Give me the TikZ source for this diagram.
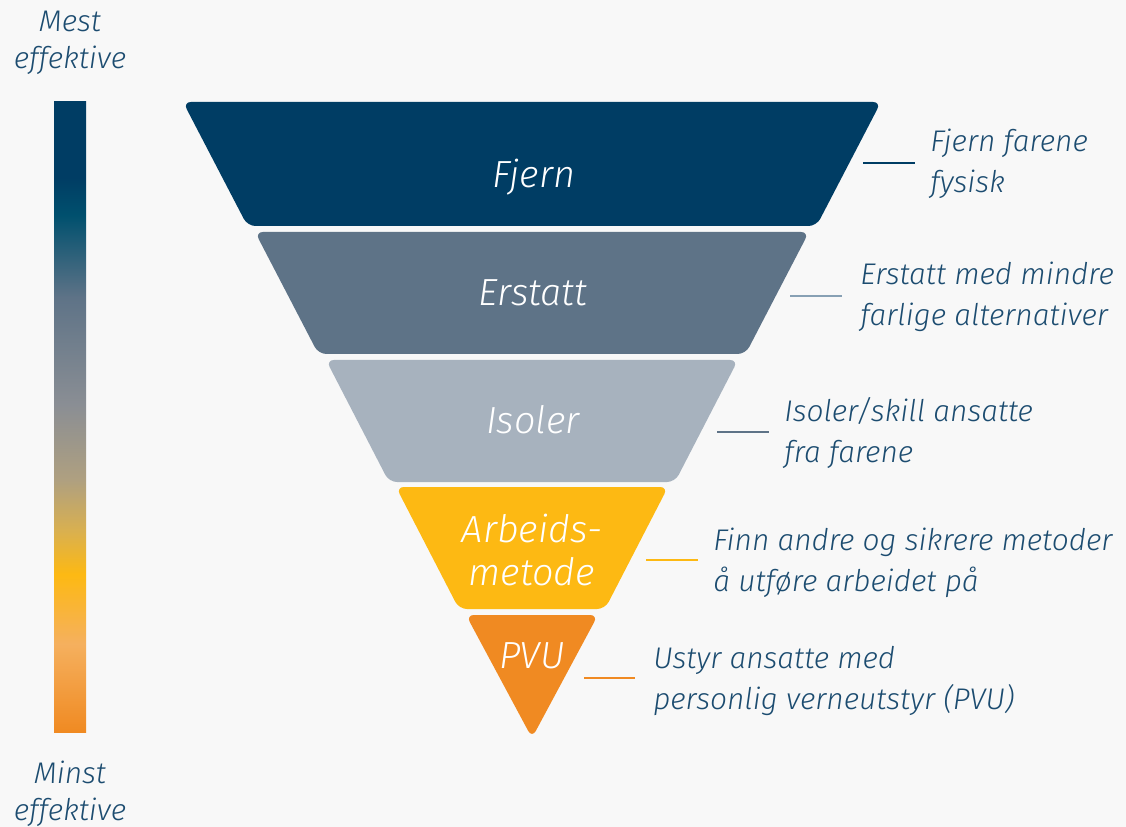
\documentclass[tikz,border=0pt]{standalone}
\usepackage{fontspec}
\setmainfont{Fira Sans Light}
\usetikzlibrary{positioning}
\definecolor{fjern}{RGB}{0,61,100}
\definecolor{erstatt}{RGB}{94,115,135}
\definecolor{isoler}{RGB}{167,178,190}
\definecolor{metode}{RGB}{253,185,19}
\definecolor{pvu}{RGB}{240,138,34}
\definecolor{lysoransje}{RGB}{245,176,94}
\definecolor{teal}{RGB}{0,80,110}
\definecolor{graa}{RGB}{138,142,148}
\definecolor{beige}{RGB}{175,160,128}
\definecolor{gull}{RGB}{217,176,80}
\definecolor{erstattlinje}{RGB}{135,160,180}
\definecolor{tekst}{RGB}{28,76,112}
\definecolor{bakgrunn}{RGB}{248,248,248}
\pgfdeclareverticalshading{effekt}{100bp}{color(0bp)=(pvu); color(25bp)=(pvu); color(32bp)=(lysoransje); color(37.5bp)=(metode); color(41bp)=(gull); color(45bp)=(beige); color(51bp)=(graa); color(59.5bp)=(erstatt); color(66bp)=(teal); color(69bp)=(fjern); color(75bp)=(fjern); color(100bp)=(fjern)}
\begin{document}
\begin{tikzpicture}[x=0.02cm,y=-0.02cm,line join=round,line cap=butt,
		band/.style={rounded corners=0.16cm},
		bandtekst/.style={text=white,align=center,font=\fontsize{21.5}{24.5}\selectfont\itshape},
		forklaring/.style={anchor=west,align=left,inner sep=0pt,text=tekst,font=\fontsize{17}{23.3}\selectfont\itshape},
		skala/.style={align=center,inner sep=0pt,text=tekst,font=\fontsize{17}{21}\selectfont\itshape},
		strek/.style={line width=1.7pt}]
	\fill[bakgrunn] (0,0) rectangle (1126,827);
	\shade[shading=effekt] (54,102) rectangle (86,732);
	\node[skala] (mest) at (70,43) {Mest\\effektive};
	\node[skala] (minst) at (70,794) {Minst\\effektive};
	\fill[fjern,band] (183,102) -- (881,102) -- (816.5,226) -- (247.5,226) -- cycle;
	\fill[erstatt,band] (255,232) -- (809,232) -- (745.6,354) -- (318.4,354) -- cycle;
	\fill[isoler,band] (326,360) -- (738,360) -- (675,482) -- (389,482) -- cycle;
	\fill[metode,band] (396,487) -- (668,487) -- (605,609) -- (459,609) -- cycle;
	\fill[pvu,band] (466,615) -- (598,615) -- (532,738) -- cycle;
	\node[bandtekst] (tfjern) at (534,177) {Fjern};
	\node[bandtekst] (terstatt) at (533,293) {Erstatt};
	\node[bandtekst] (tisoler) at (533,420) {Isoler};
	\node[bandtekst] (tmetode) at (532,550) {Arbeids-\\metode};
	\node[bandtekst] (tpvu) at (532,656) {PVU};
	\coordinate (s1) at (863,163);
	\coordinate (s2) at (790,296);
	\coordinate (s3) at (717,432);
	\coordinate (s4) at (646,560);
	\coordinate (s5) at (584,678);
	\node[forklaring] (f1) at (930,164) {Fjern farene\\fysisk};
	\node[forklaring] (f2) at (860,297) {Erstatt med mindre\\farlige alternativer};
	\node[forklaring] (f3) at (784,433) {Isoler/skill ansatte\\fra farene};
	\node[forklaring] (f4) at (713,563) {Finn andre og sikrere metoder\\å utføre arbeidet på};
	\node[forklaring] (f5) at (653,681) {Ustyr ansatte med\\personlig verneutstyr (PVU)};
	\draw[strek,fjern] (s1) -- ([xshift=-0.3cm]f1.west|-s1);
	\draw[strek,erstattlinje] (s2) -- ([xshift=-0.36cm]f2.west|-s2);
	\draw[strek,erstatt] (s3) -- ([xshift=-0.3cm]f3.west|-s3);
	\draw[strek,metode] (s4) -- ([xshift=-0.3cm]f4.west|-s4);
	\draw[strek,pvu] (s5) -- ([xshift=-0.36cm]f5.west|-s5);
\end{tikzpicture}
\end{document}
